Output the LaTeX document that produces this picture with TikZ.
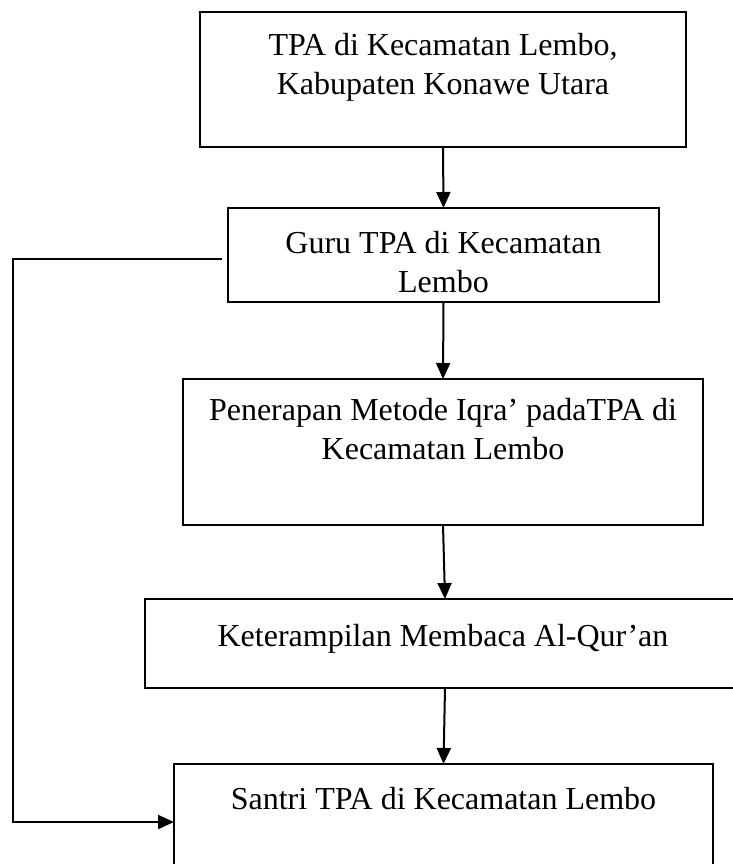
\documentclass[tikz,border=0pt]{standalone}
\usepackage{fontspec}
\setmainfont{Liberation Serif}
\usetikzlibrary{arrows.meta}

\begin{document}
\begin{tikzpicture}[x = 1pt, y = -1pt,
  box/.style = {draw, line width = 2pt, rectangle, inner sep = 0pt, outer sep = 0pt},
  txt/.style = {anchor = base, align = center, inner sep = 0pt,
    font = \fontsize{32}{39}\selectfont},
  flow/.style = {line width = 2pt, -{Triangle[width = 14pt, length = 16pt]}}]
\useasboundingbox (0, 0) rectangle (732, 864);
% boxes
\node (tpa) [box, minimum width = 486pt, minimum height = 135pt] at (443, 79.5) {};
\node (guru) [box, minimum width = 431pt, minimum height = 94pt] at (443.5, 255) {};
\node (iqra) [box, minimum width = 520pt, minimum height = 146pt] at (443, 452) {};
\node (baca) [box, minimum width = 600pt, minimum height = 89pt] at (445, 643.5) {};
\node (santri) [box, minimum width = 539pt, minimum height = 116pt] at (443.5, 822) {};
% texts (base = last line)
\node (tpatext) [txt] at (443, 95) {TPA di Kecamatan Lembo,\\ Kabupaten Konawe Utara};
\node (gurutext) [txt] at (443.5, 292) {Guru TPA di Kecamatan\\ Lembo};
\node (iqratext) [txt] at (443, 459) {Penerapan Metode Iqra’ padaTPA di\\ Kecamatan Lembo};
\node (bacatext) [txt] at (443, 646) {Keterampilan Membaca Al-Qur’an};
\node (santritext) [txt] at (443.5, 809) {Santri TPA di Kecamatan Lembo};
% arrows
\draw [flow] (tpa.south) to (guru.north);
\draw [flow] (guru.south) to (iqra.north);
\draw [flow] (iqra.south) to (baca.north);
\draw [flow] (baca.south) to (santri.north);
\coordinate (bend) at (13, 0);
\draw [flow, shorten <= 6pt] ([yshift = -4pt]guru.west) -- ([yshift = -4pt]guru.west -| bend) |- (santri.west);
\end{tikzpicture}
\end{document}
